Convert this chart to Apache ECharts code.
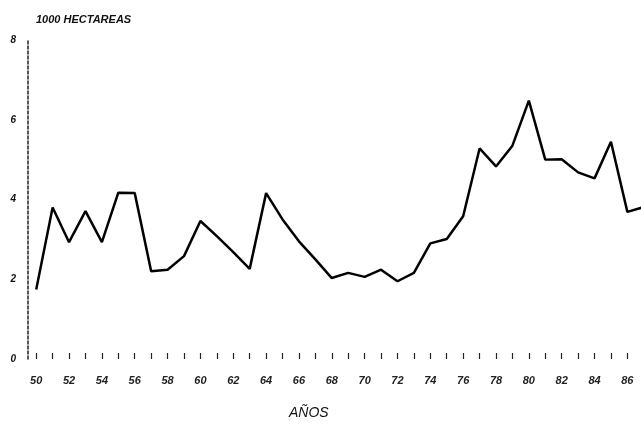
<!DOCTYPE html>
<html>
<head>
<meta charset="utf-8">
<script src="https://cdn.jsdelivr.net/npm/echarts@6/dist/echarts.min.js"></script>
<style>
html,body{margin:0;padding:0;background:#fff;}
#c{width:641px;height:425px;}
</style>
</head>
<body>
<div id="c"></div>
<script>
const years = ['50','51','52','53','54','55','56','57','58','59','60','61','62','63','64','65','66','67','68','69','70','71','72','73','74','75','76','77','78','79','80','81','82','83','84','85','86','87'];
const hectareas = [1.74,3.8,2.93,3.71,2.93,4.17,4.16,2.2,2.24,2.58,3.46,3.08,2.68,2.26,4.16,3.5,2.95,2.5,2.03,2.16,2.06,2.24,1.95,2.16,2.9,3.01,3.58,5.28,4.83,5.35,6.48,5.0,5.01,4.68,4.53,5.45,3.69,3.81];
const yTicks = [0, 2, 4, 6, 8];
const yTitle = '1000 HECTAREAS';
const xTitle = 'AÑOS';

const font = 'Liberation Sans';
const chart = echarts.init(document.getElementById('c'));
chart.setOption({
  animation: false,
  backgroundColor: '#fff',
  title: [
    {text: yTitle, left: 31, top: 9, textStyle: {fontFamily: font, fontSize: 11, fontWeight: 'bold', fontStyle: 'italic', color: '#111'}},
    {text: xTitle, left: 284, top: 401, textStyle: {fontFamily: font, fontSize: 14, fontWeight: 'normal', fontStyle: 'italic', color: '#111'}}
  ],
  grid: {left: 28, width: 624, top: 40, bottom: 66, containLabel: false, outerBoundsMode: 'none'},
  xAxis: {
    type: 'category',
    data: years,
    boundaryGap: true,
    axisLine: {show: false},
    axisTick: {show: true, inside: true, length: 6, alignWithLabel: true, interval: 0, lineStyle: {color: '#222', width: 1.2}},
    axisLabel: {interval: 1, margin: 16, fontFamily: font, fontSize: 11, fontWeight: 'bold', fontStyle: 'italic', color: '#222'},
    splitLine: {show: false}
  },
  yAxis: {
    type: 'value',
    min: yTicks[0],
    max: yTicks[yTicks.length - 1],
    interval: 2,
    axisLine: {show: true, lineStyle: {color: '#222', width: 1.5, type: [3, 2]}},
    axisTick: {show: false},
    axisLabel: {margin: 12, fontFamily: font, fontSize: 10, fontWeight: 'bold', fontStyle: 'italic', color: '#111'},
    splitLine: {show: false}
  },
  series: [{
    type: 'line',
    data: hectareas,
    symbol: 'none',
    lineStyle: {color: '#000', width: 2.5},
    clip: false
  }]
});
</script>
</body>
</html>
